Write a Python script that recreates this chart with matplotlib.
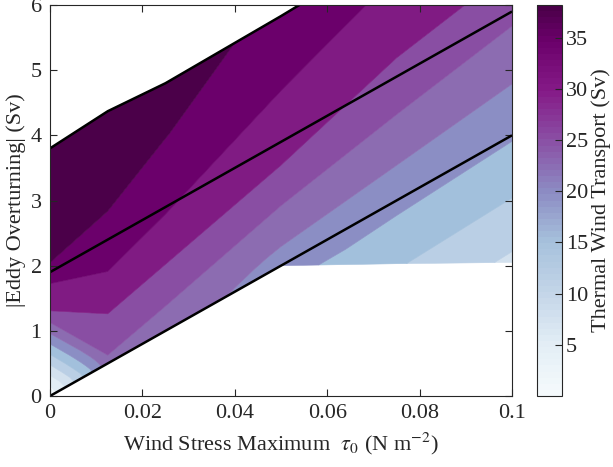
import numpy as np
import matplotlib
matplotlib.use('Agg')
import matplotlib.pyplot as plt
from matplotlib.colors import LinearSegmentedColormap, Normalize
import matplotlib.cm as cm

plt.rcParams['font.family'] = ['Liberation Serif', 'DejaVu Serif']
plt.rcParams['mathtext.fontset'] = 'stix'

# ---- data ----
# wind stress of each simulation column
tau = [0.0, 0.0125, 0.025, 0.05, 0.075, 0.1]
# |eddy overturning| (Sv) sampled along each column, bottom to top
overturning_cols = [
    [0.00, 0.16, 0.32, 0.48, 0.64, 0.80, 0.96, 1.13, 1.31, 1.73, 2.05, 3.80],
    [0.50, 0.52, 0.54, 0.56, 0.58, 0.60, 0.63, 0.95, 1.27, 1.92, 2.85, 4.37],
    [1.00, 1.06, 1.12, 1.19, 1.26, 1.32, 1.39, 1.71, 2.03, 2.80, 3.97, 4.80],
    [2.00, 2.06, 2.12, 2.18, 2.24, 2.30, 2.93, 3.24, 3.55, 4.70, 5.30, 5.83],
    [2.03, 2.40, 2.78, 3.05, 3.30, 3.55, 4.33, 4.76, 5.20, 6.49, 6.70, 6.90],
    [2.05, 3.05, 3.92, 4.22, 4.51, 4.80, 5.69, 6.13, 6.57, 7.40, 7.65, 7.90],
]
# thermal wind transport (Sv) at the same points
transport_cols = [
    [1.0, 3.55, 7.05, 10.55, 14.05, 17.55, 21.05, 24.55, 28.05, 31.55, 35.05, 38.0],
    [23.5, 23.6, 23.7, 23.8, 23.9, 24.0, 24.55, 26.3, 28.05, 31.55, 35.05, 37.5],
    [23.2, 23.4, 23.6, 23.8, 24.0, 24.2, 24.55, 26.3, 28.05, 31.55, 35.05, 36.5],
    [19.0, 19.4, 19.8, 20.2, 20.6, 21.05, 24.55, 26.3, 28.05, 31.55, 33.0, 34.0],
    [14.4, 16.0, 17.55, 18.8, 19.9, 21.05, 24.55, 26.3, 28.05, 31.55, 32.0, 32.5],
    [9.8, 14.05, 17.55, 18.7, 19.9, 21.05, 24.55, 26.3, 28.05, 31.55, 32.2, 33.0],
]
levels = [0, 3.5, 7, 10.5, 14, 17.5, 21, 24.5, 28, 31.5, 35, 38.5]
band_colors = ['#f1f8fb', '#e2edf5', '#d3e1ee', '#bacfe5', '#a2c0dc', '#8b8ec4',
               '#8c6cb1', '#894ea3', '#801b83', '#6b006b', '#4b0049']

line_tau = [0.0, 0.1]
lower_line = [0.0, 4.0]
middle_line = [1.9, 5.9]

cbar_values = [0, 5, 10, 15, 20, 25, 30, 35, 38.2]
cbar_colors = ['#f5fafc', '#e2edf5', '#c3d5e8', '#a6c1dc', '#8c8bc3', '#8a50a5',
               '#851a87', '#6b006a', '#4b0049']
cbar_ticks = [5, 10, 15, 20, 25, 30, 35]

# ---- curvilinear grid ----
Y = np.array(overturning_cols).T
Z = np.array(transport_cols).T
X = np.tile(np.array(tau), (Y.shape[0], 1))
top = [c[-1] for c in overturning_cols]

# ---- figure ----
fig = plt.figure(figsize=(6.13, 4.67), dpi=100)
ax = fig.add_axes([50 / 613, 71 / 467, 462 / 613, 391 / 467])
cs = ax.contourf(X, Y, Z, levels=levels, colors=band_colors, antialiased=True)
cs.set_edgecolor('face')
cs.set_linewidth(0.4)

ax.plot(line_tau, lower_line, color='black', lw=1.8, solid_capstyle='butt')
ax.plot(line_tau, middle_line, color='black', lw=1.8, solid_capstyle='butt')
ax.plot(tau, top, color='black', lw=1.8)

ax.set_xlim(0, 0.1)
ax.set_ylim(0, 6)
ax.set_xticks([0, 0.02, 0.04, 0.06, 0.08, 0.1])
ax.set_xticklabels(['0', '0.02', '0.04', '0.06', '0.08', '0.1'])
ax.set_yticks([0, 1, 2, 3, 4, 5, 6])
dark = '#262626'
ax.tick_params(direction='in', top=True, right=True, length=5, width=0.8,
               colors=dark, labelsize=16, pad=6)
for s in ax.spines.values():
    s.set_color(dark)
    s.set_linewidth(0.8)
ax.set_xlabel('Wind Stress Maximum  $\\tau_0$ (N m$^{-2}$)', fontsize=16, color=dark, labelpad=5)
ax.set_ylabel('|Eddy Overturning| (Sv)', fontsize=16, color=dark, labelpad=3)

cax = fig.add_axes([537 / 613, 71 / 467, 25 / 613, 391 / 467])
cmap = LinearSegmentedColormap.from_list(
    'tw', list(zip(np.array(cbar_values) / cbar_values[-1], cbar_colors)), N=64)
sm = cm.ScalarMappable(norm=Normalize(0, cbar_values[-1]), cmap=cmap)
cb = fig.colorbar(sm, cax=cax, ticks=cbar_ticks)
cb.outline.set_edgecolor(dark)
cb.outline.set_linewidth(0.8)
cax.tick_params(direction='in', length=5, width=0.8, colors=dark, labelsize=16, pad=3)
cb.set_label('Thermal Wind Transport (Sv)', fontsize=16, color=dark, labelpad=2)

fig.savefig('out.png', dpi=100)
